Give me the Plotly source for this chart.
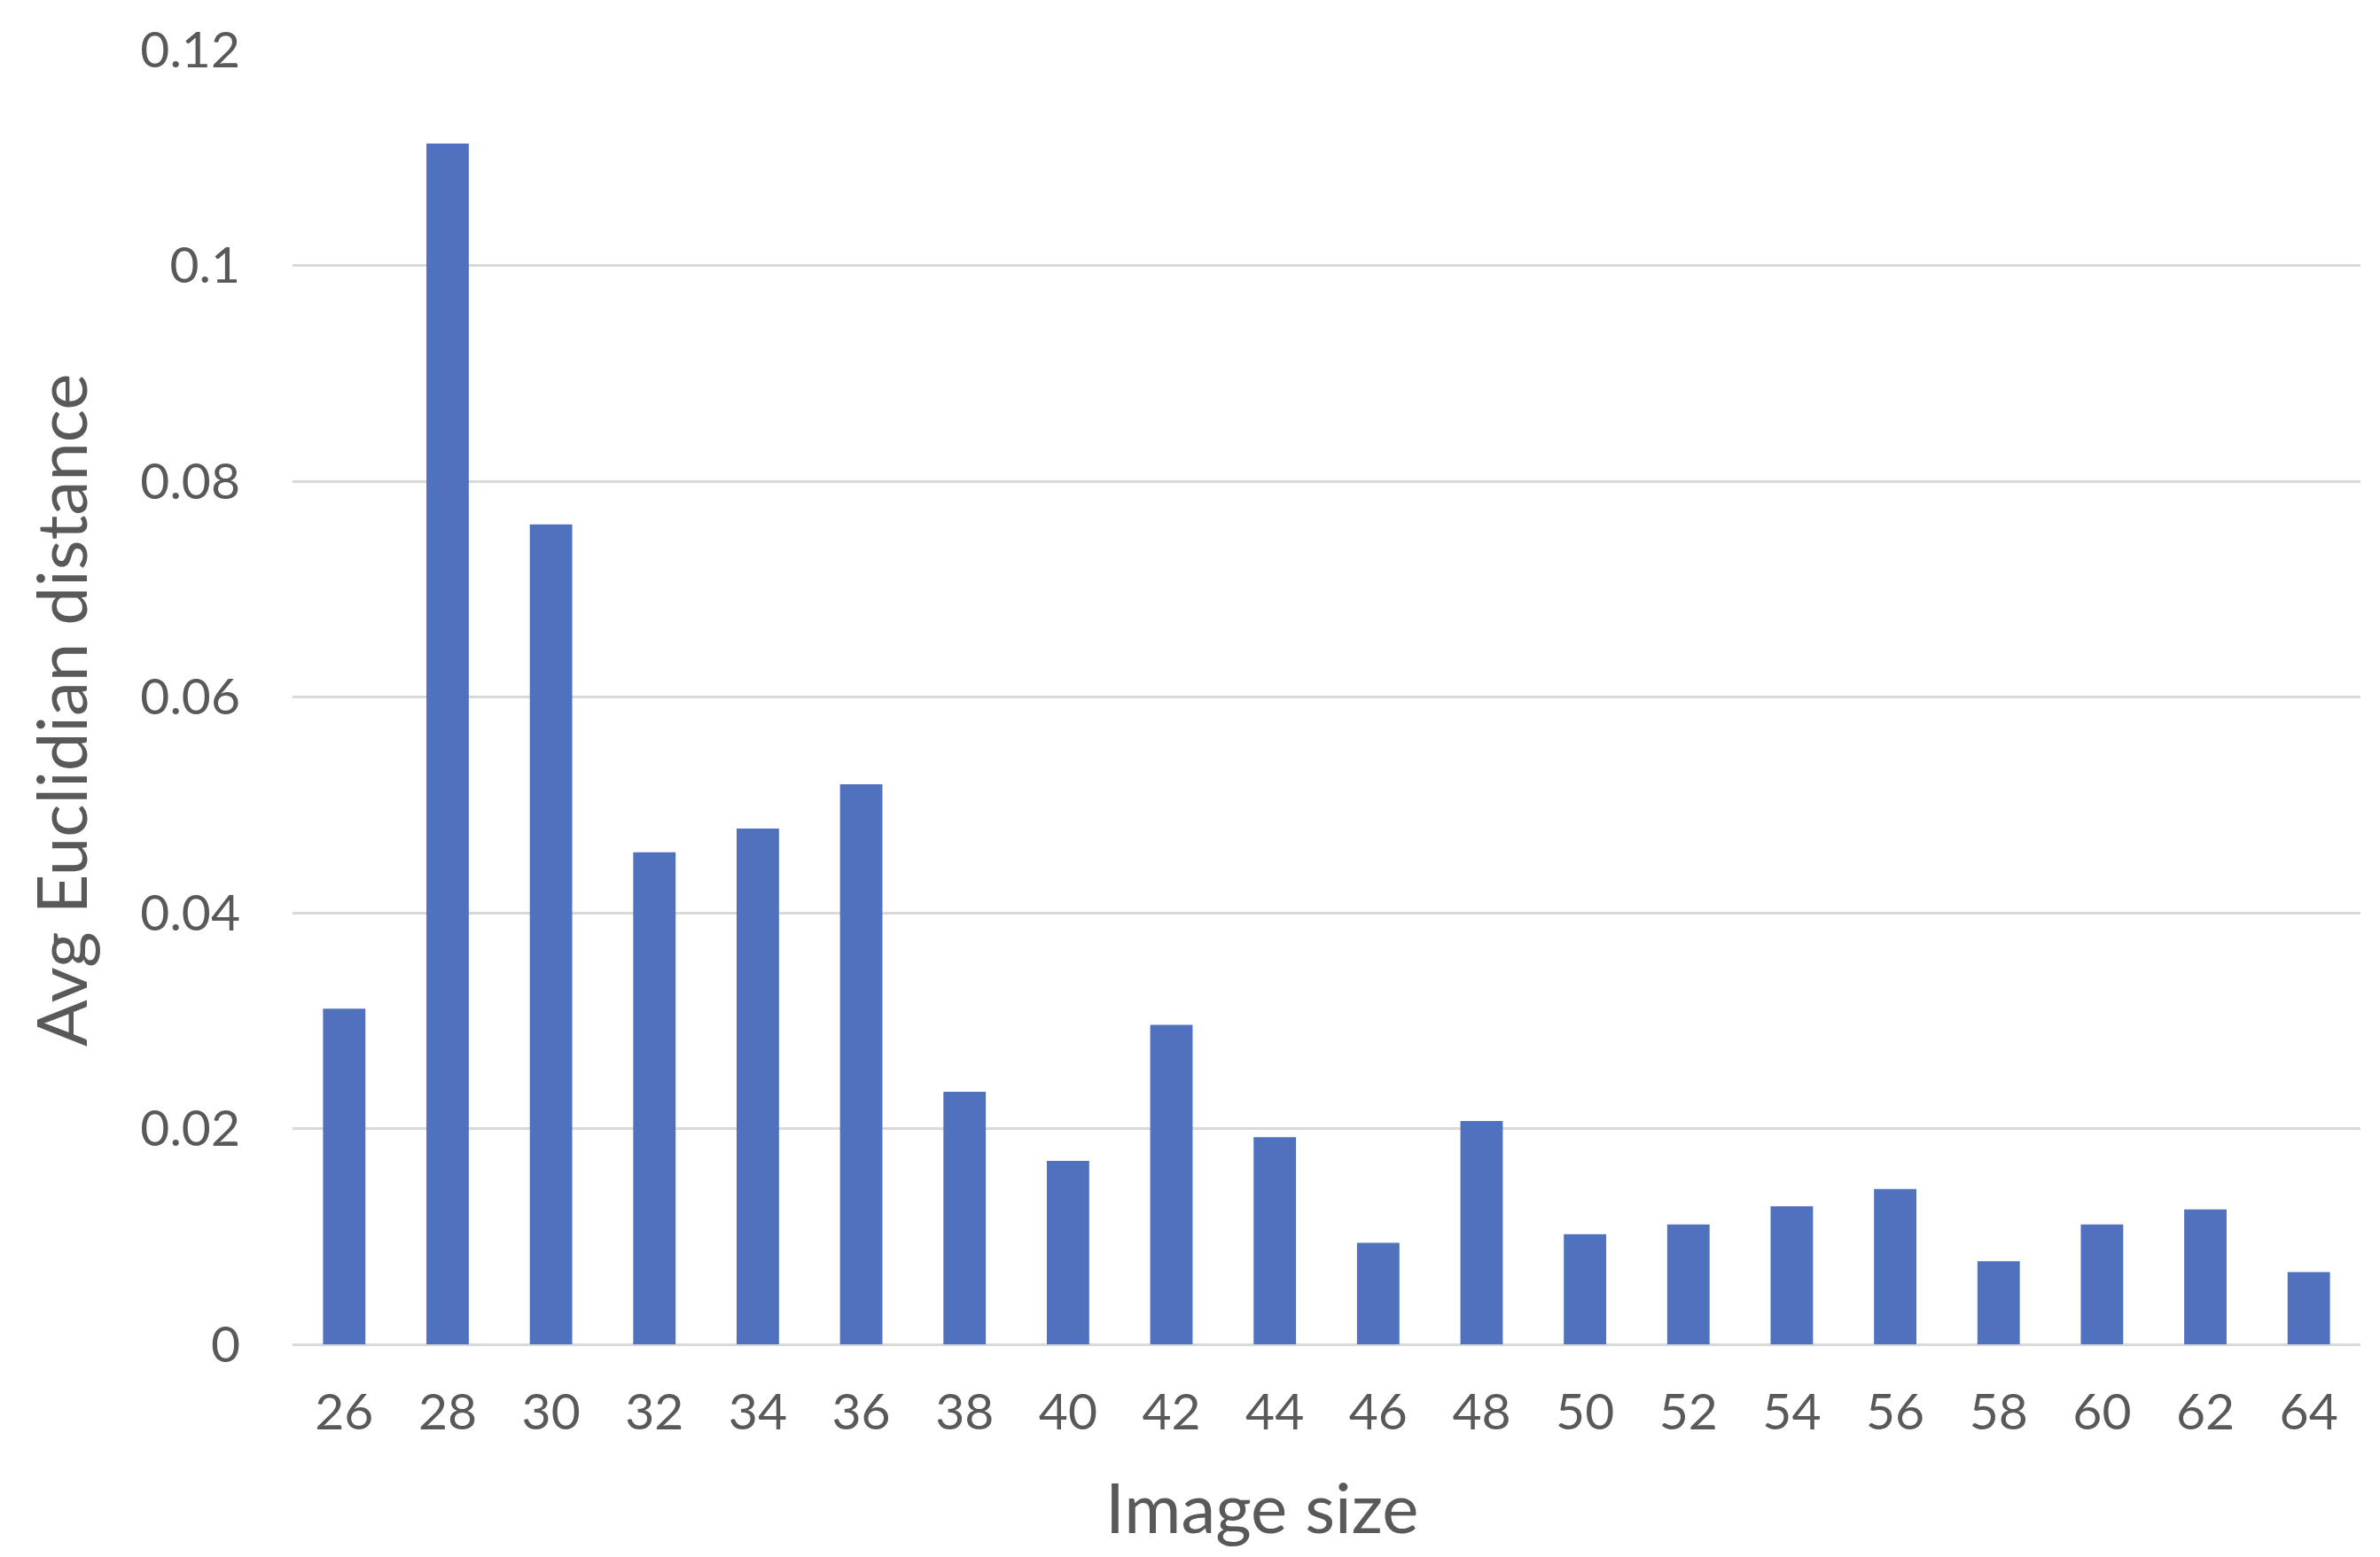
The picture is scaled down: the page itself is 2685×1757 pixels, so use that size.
import plotly.graph_objects as go

categories = ["26", "28", "30", "32", "34", "36", "38", "40", "42", "44",
              "46", "48", "50", "52", "54", "56", "58", "60", "62", "64"]
values = [0.0311, 0.1113, 0.0760, 0.0456, 0.0478, 0.0519, 0.0234, 0.0170, 0.0296, 0.0192,
          0.0094, 0.0207, 0.0102, 0.0111, 0.0128, 0.0144, 0.0077, 0.0111, 0.0125, 0.0067]
y_ticks = [0, 0.02, 0.04, 0.06, 0.08, 0.1, 0.12]
y_tick_labels = ["0", "0.02", "0.04", "0.06", "0.08", "0.1", "0.12"]

FONT = "Lato, 'Open Sans', sans-serif"
TXT = "#595959"

fig = go.Figure(go.Bar(x=categories, y=values, marker_color="#4F71BE",
                       marker_line_width=0, width=0.41))

fig.update_layout(
    width=2669, height=1741,
    margin=dict(l=322, r=14, t=43, b=232),
    plot_bgcolor="white", paper_bgcolor="white",
    showlegend=False,
    font=dict(family=FONT, color=TXT),
)
fig.update_xaxes(
    type="category", showgrid=False, showline=False, ticks="",
    tickfont=dict(size=57, color=TXT, family=FONT),
    ticklabelstandoff=38,
)
fig.update_yaxes(
    range=[0, 0.12], tickvals=y_ticks, ticktext=y_tick_labels,
    showgrid=True, gridcolor="#D9D9D9", gridwidth=3,
    zeroline=True, zerolinecolor="#D9D9D9", zerolinewidth=3,
    showline=False, ticks="",
    tickfont=dict(size=57, color=TXT, family=FONT),
    ticklabelstandoff=58,
)
fig.add_annotation(text="Image size", xref="paper", yref="paper",
                   x=0.4685, y=-0.125, xanchor="center", yanchor="middle",
                   showarrow=False, font=dict(size=78, color=TXT, family=FONT))
fig.add_annotation(text="Avg Euclidian distance", xref="paper", yref="paper",
                   x=-0.1123, y=0.49, xanchor="center", yanchor="middle", textangle=-90,
                   showarrow=False, font=dict(size=78, color=TXT, family=FONT))

fig.write_html("out.html")
